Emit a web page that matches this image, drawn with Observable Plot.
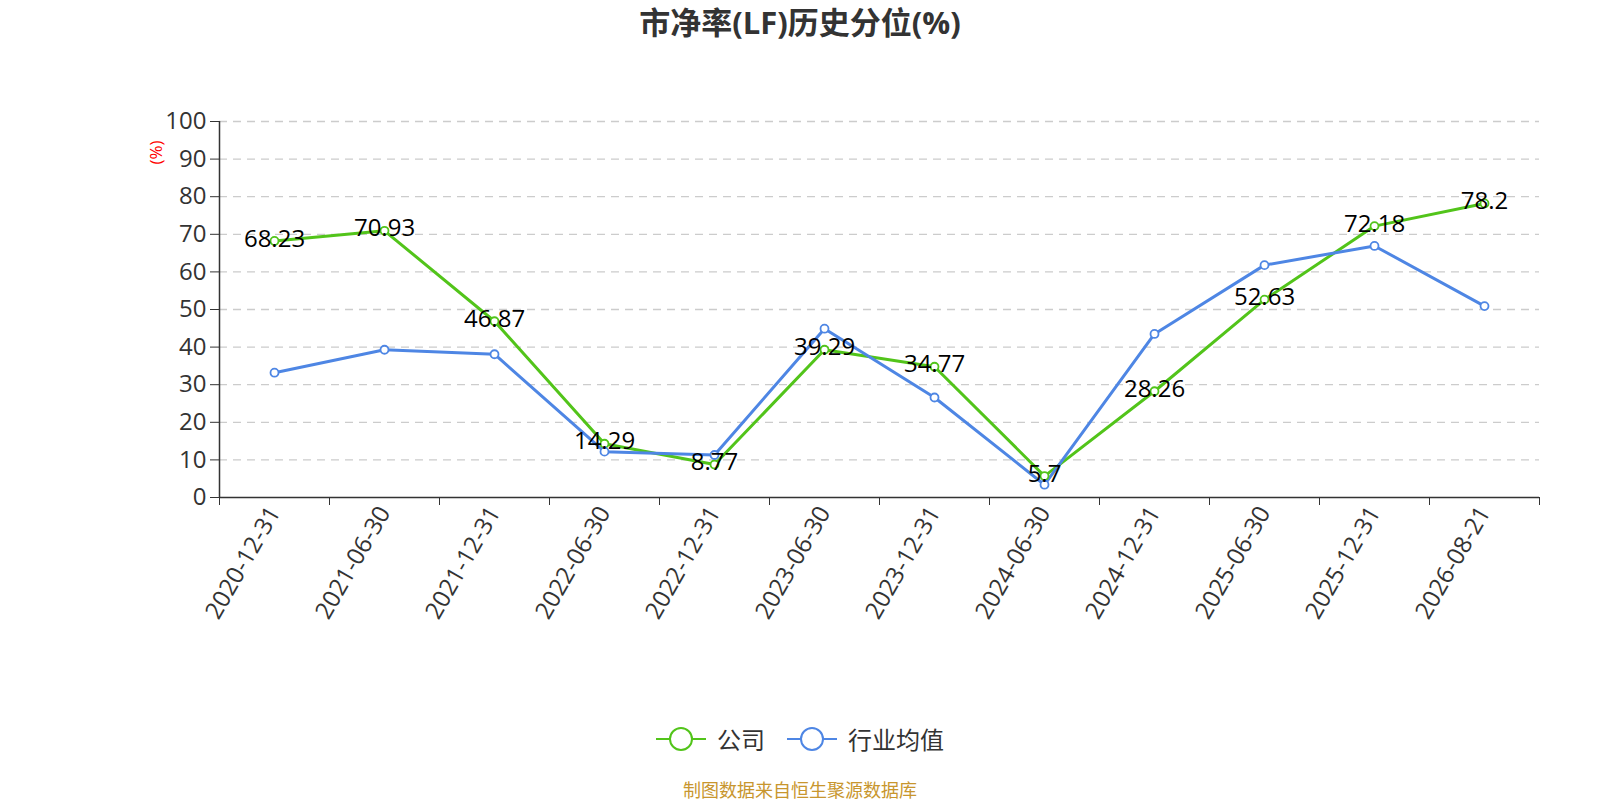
<!DOCTYPE html>
<html>
<head>
<meta charset="utf-8">
<script src="https://cdn.jsdelivr.net/npm/d3@7"></script>
<script src="https://cdn.jsdelivr.net/npm/@observablehq/plot@0.6"></script>
<style>
  body { margin: 0; width: 1600px; height: 800px; background: #fff; font-family: "Open Sans", "Noto Sans CJK SC", sans-serif; position: relative; overflow: hidden; }
  #title { height: 50px; line-height: 45px; text-align: center; font-size: 31px; font-weight: bold; color: #333; }
  #ylab { position: absolute; left: 143px; top: 141px; color: red; font-size: 17px; transform: rotate(-90deg); transform-origin: center; }
  #legend { position: absolute; top: 721px; left: 0; width: 1600px; display: flex; justify-content: center; align-items: center; font-size: 24px; color: #333; font-family: "Noto Sans CJK SC", sans-serif; }
  #legend .item { display: flex; align-items: center; margin: 0 11px; }
  #legend svg { margin-right: 11px; }
  #caption { position: absolute; top: 776px; left: 0; width: 1600px; text-align: center; font-size: 18px; color: #c8962e; font-family: "Noto Sans CJK SC", sans-serif; }
</style>
</head>
<body>
<div id="title">市净率(LF)历史分位(%)</div>
<div id="chart"></div>
<div id="ylab">(%)</div>
<div id="legend"></div>
<div id="caption">制图数据来自恒生聚源数据库</div>
<script>
const categories = ["2020-12-31","2021-06-30","2021-12-31","2022-06-30","2022-12-31","2023-06-30","2023-12-31","2024-06-30","2024-12-31","2025-06-30","2025-12-31","2026-08-21"];
const companyValues = [68.23, 70.93, 46.87, 14.29, 8.77, 39.29, 34.77, 5.7, 28.26, 52.63, 72.18, 78.2];
const industryValues = [33.2, 39.3, 38.1, 12.2, 11.3, 44.9, 26.6, 3.4, 43.5, 61.8, 66.9, 50.9];
const yTicks = [0, 10, 20, 30, 40, 50, 60, 70, 80, 90, 100];
const seriesNames = ["公司", "行业均值"];
const colors = ["#52c41a", "#4e86e4"];

const company = categories.map((c, i) => ({pos: i + 0.5, date: c, value: companyValues[i]}));
const industry = categories.map((c, i) => ({pos: i + 0.5, date: c, value: industryValues[i]}));

const chart = Plot.plot({
  width: 1600,
  height: 650,
  marginTop: 71,
  marginBottom: 203,
  marginLeft: 219,
  marginRight: 61,
  style: {fontFamily: '"Open Sans", "Noto Sans CJK SC", sans-serif', background: "#fff"},
  x: {domain: [0, categories.length]},
  y: {domain: [0, 100]},
  marks: [
    Plot.gridY(yTicks.filter(d => d > 0), {stroke: "#cccccc", strokeOpacity: 1, strokeDasharray: "8,6", strokeWidth: 1.3}),
    Plot.axisY(yTicks, {tickSize: 9, tickPadding: 4, fontSize: 24, color: "#333", label: null, stroke: "#333"}),
    Plot.axisX(d3.range(0, categories.length + 1), {tickSize: 8, tickFormat: () => "", label: null, stroke: "#333"}),
    Plot.axisX(company.map(d => d.pos), {tickSize: 0, tickPadding: 11, tickRotate: -60, fontSize: 24, color: "#333", label: null, tickFormat: p => categories[Math.floor(p)]}),
    Plot.ruleY([0], {stroke: "#333", strokeWidth: 1.5}),
    Plot.ruleX([0], {stroke: "#333", strokeWidth: 1.5}),
    Plot.line(company, {x: "pos", y: "value", stroke: colors[0], strokeWidth: 3}),
    Plot.line(industry, {x: "pos", y: "value", stroke: colors[1], strokeWidth: 3}),
    Plot.dot(company, {x: "pos", y: "value", r: 4, fill: "#fff", stroke: colors[0], strokeWidth: 1.8}),
    Plot.dot(industry, {x: "pos", y: "value", r: 4, fill: "#fff", stroke: colors[1], strokeWidth: 1.8}),
    Plot.text(company, {x: "pos", y: "value", text: d => String(d.value), fontSize: 24, fill: "#000", dy: -2})
  ]
});
document.getElementById("chart").appendChild(chart);

const legend = document.getElementById("legend");
seriesNames.forEach((name, i) => {
  const item = document.createElement("div");
  item.className = "item";
  item.innerHTML = `<svg width="50" height="26"><line x1="0" y1="13" x2="50" y2="13" stroke="${colors[i]}" stroke-width="2"/><circle cx="25" cy="13" r="11" fill="#fff" stroke="${colors[i]}" stroke-width="2"/></svg><span>${name}</span>`;
  legend.appendChild(item);
});
</script>
</body>
</html>
